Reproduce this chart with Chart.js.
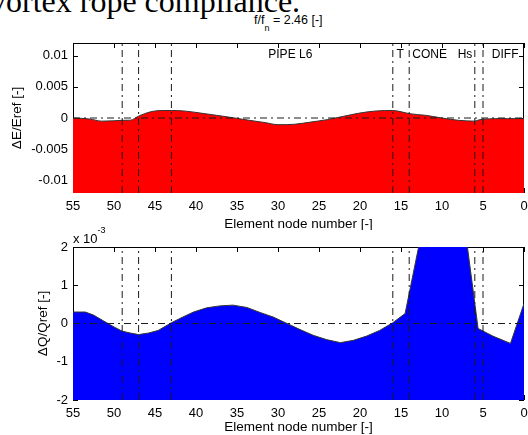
<!DOCTYPE html>
<html><head><meta charset="utf-8">
<script src="https://cdn.jsdelivr.net/npm/chart.js@4/dist/chart.umd.min.js"></script>
<style>
body{margin:0;background:#fff;}
#wrap{position:relative;width:528px;height:435px;overflow:hidden;background:#fff;font-family:"Liberation Sans",Arial,sans-serif;color:#000}
.abs{position:absolute;white-space:nowrap;line-height:1}
#heading{left:-10px;top:-15px;font-family:"Liberation Serif","Times New Roman",serif;font-size:32px}
#title{left:254px;top:14px;font-size:12.5px}
#exp{left:73px;top:232px;font-size:13px}
canvas{position:absolute;left:0}
#c1{top:0}
#c2{top:230px}
</style></head>
<body>
<div id="wrap">
  <div id="heading" class="abs">vortex rope compliance.</div>
  <div id="title" class="abs">f/f<span style="position:relative;top:7px;font-size:9px">n</span> = 2.46 [-]</div>
  <canvas id="c1" width="528" height="230"></canvas>
  <canvas id="c2" width="528" height="205"></canvas>
  <div id="exp" class="abs">x 10<span style="position:relative;top:-10px;font-size:9px">-3</span></div>
</div>
<script>
// ---- data ----
const nodeTicks = [0,5,10,15,20,25,30,35,40,45,50,55];
const eTicks = [-0.01,-0.005,0,0.005,0.01];
const eTickLabels = ['-0.01','-0.005','0','0.005','0.01'];
const qTicks = [-2,-1,0,1,2];
const qTickLabels = ['-2','-1','0','1','2'];
const eRange = [-0.012, 0.012];
const qRange = [-2, 2];
const nodeRange = [0, 55];
const interfaceNodes = [49,47,43,16,14,6,5];
const regionNames = ['PIPE L6','T','CONE','Hs','DIFF'];
const regionNameNodes = [28.5,15.1,11.5,7.2,2.3];
const regionNameLevel = 0.0101;

const eNodes  = [55,53,51.5,50,49,48,47,45.5,44,43,41.5,39.5,37.5,35.5,33.5,31.5,30,28,26,24,22,20,18,16,15,14,12,10,8,6,5.5,5,3.5,2,0];
const eValues = [0,-0.00015,-0.0005,-0.00045,-0.00037,-0.00035,0.0003,0.001,0.0012,0.0012,0.00113,0.0008,0.00043,0.00005,-0.00037,-0.00075,-0.00107,-0.001,-0.00065,-0.00026,0.00027,0.0008,0.00113,0.0012,0.001,0.0007,0.00043,0,-0.00037,-0.0005,-0.0003,-0.0002,-0.0001,-0.0001,-0.0001];

// dQ/Qref in units of 1e-3
const qNodes  = [55,53.5,52.5,51.3,50,49,48,47,45.8,44.6,43,41.7,40.3,38.7,37.1,35.5,33.8,32.2,30.6,28.9,27.3,25.7,24.1,22.4,20.8,19.2,17.6,16,14.5,12,10,8,5.6,3.8,1.65,0];
const qValues = [0.30,0.30,0.22,0.07,-0.09,-0.20,-0.25,-0.29,-0.25,-0.18,0.02,0.16,0.30,0.41,0.46,0.48,0.42,0.29,0.17,0.0,-0.16,-0.31,-0.42,-0.50,-0.44,-0.33,-0.18,0.02,0.26,2.9,3.5,3.8,-0.13,-0.33,-0.52,0.52];

// ---- helpers ----
const FAM = '"Liberation Sans", Arial, sans-serif';
const DASHDOT = [7,4,2,4];
const zip = (xs, ys) => xs.map((x,i)=>({x, y: ys[i]}));

function refLines(range){
  const sets = interfaceNodes.map(n => ({
    data: [{x:n,y:range[0]},{x:n,y:range[1]}],
    borderColor:'#1a1a1a', borderWidth:1, borderDash:DASHDOT, pointRadius:0, fill:false, order:0
  }));
  sets.push({
    data: [{x:nodeRange[1],y:0},{x:nodeRange[0],y:0}],
    borderColor:'#1a1a1a', borderWidth:1, borderDash:DASHDOT, pointRadius:0, fill:false, order:0
  });
  return sets;
}

const frameTicks = {
  id:'frameTicks',
  beforeDatasetsDraw(chart){
    const {ctx, chartArea:a, scales:{x,y}} = chart;
    ctx.save();
    ctx.strokeStyle='#000'; ctx.lineWidth=1;
    ctx.strokeRect(a.left+0.5, a.top+0.5, a.right-a.left-1, a.bottom-a.top-1);
    ctx.beginPath();
    x.ticks.forEach(t=>{
      const p = Math.round(x.getPixelForValue(t.value))+0.5;
      ctx.moveTo(p,a.top); ctx.lineTo(p,a.top+5);
      ctx.moveTo(p,a.bottom); ctx.lineTo(p,a.bottom-5);
    });
    y.ticks.forEach(t=>{
      const p = Math.round(y.getPixelForValue(t.value))+0.5;
      ctx.moveTo(a.left,p); ctx.lineTo(a.left+5,p);
      ctx.moveTo(a.right,p); ctx.lineTo(a.right-5,p);
    });
    ctx.stroke();
    ctx.restore();
  }
};

const regionText = {
  id:'regionText',
  afterDatasetsDraw(chart){
    if(!chart.options.plugins.regionText || !chart.options.plugins.regionText.show) return;
    const {ctx, scales:{x,y}} = chart;
    ctx.save();
    ctx.font = '12px ' + FAM;
    ctx.fillStyle = '#000';
    ctx.textAlign='center'; ctx.textBaseline='middle';
    regionNames.forEach((s,i)=>{
      ctx.fillText(s, x.getPixelForValue(regionNameNodes[i]), y.getPixelForValue(regionNameLevel));
    });
    ctx.restore();
  }
};

function makeChart(id, opts){
  return new Chart(document.getElementById(id), {
    type:'line',
    data:{ datasets: [
      ...refLines(opts.range),
      { data: zip(opts.nodes, opts.values), borderColor:'#333', borderWidth:1, backgroundColor:opts.color,
        fill:'start', pointRadius:0, tension:0, cubicInterpolationMode: opts.mono ? 'monotone' : 'default', order:10 }
    ]},
    options:{
      responsive:false, animation:false,
      layout:{padding:{top:opts.padTop,right:4,left:0,bottom:0}},
      plugins:{legend:{display:false}, tooltip:{enabled:false}, regionText:{show:opts.regions}},
      scales:{
        x:{ type:'linear', reverse:true, min:nodeRange[0], max:nodeRange[1],
            afterBuildTicks:s=>{ s.ticks = nodeTicks.map(v=>({value:v})); },
            afterFit:s=>{ s.height = opts.xHeight; },
            grid:{display:false, drawTicks:false}, border:{display:false},
            ticks:{padding:opts.xPad, color:'#000', font:{size:13,family:FAM}, maxRotation:0, autoSkip:false,
                   callback:v=>String(v)},
            title:{display:true, text:'Element node number [-]', color:'#000', font:{size:13.5,family:FAM}, padding:{top:0,bottom:opts.xTitlePad}} },
        y:{ type:'linear', min:opts.range[0], max:opts.range[1],
            afterBuildTicks:s=>{ s.ticks = opts.ticks.map(v=>({value:v})); },
            afterFit:s=>{ s.width = 73; },
            grid:{display:false, drawTicks:false}, border:{display:false},
            ticks:{padding:5, color:'#000', font:{size:13,family:FAM},
                   callback:v=>{ const i = opts.ticks.indexOf(v); return i>=0 ? opts.labels[i] : ''; }},
            title:{display:true, text:opts.ytitle, color:'#000', font:{size:13.5,family:FAM}, padding:{top:opts.yTitlePad,bottom:0}} }
      }
    },
    plugins:[frameTicks, regionText]
  });
}

makeChart('c1', {range:eRange, nodes:eNodes, values:eValues, color:'#ff0000', mono:true, regions:true,
  padTop:43, xHeight:37, xPad:6, xTitlePad:-2, ticks:eTicks, labels:eTickLabels, ytitle:'\u0394E/Eref [-]', yTitlePad:9});
makeChart('c2', {range:qRange, nodes:qNodes, values:qValues, color:'#0000ff', mono:false, regions:false,
  padTop:17, xHeight:35, xPad:6, xTitlePad:0, ticks:qTicks, labels:qTickLabels, ytitle:'\u0394Q/Qref [-]', yTitlePad:35});
</script>
</body></html>
